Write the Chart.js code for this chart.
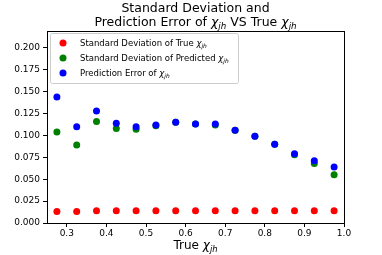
<!DOCTYPE html>
<html>
<head>
<meta charset="utf-8">
<script src="https://cdn.jsdelivr.net/npm/chart.js@4.4.1/dist/chart.umd.min.js"></script>
<style>
  html, body { margin: 0; padding: 0; background: #fff; }
  canvas { display: block; }
</style>
</head>
<body>
<canvas id="chart" width="382" height="255"></canvas>
<script>
// x positions (true chi_jh bin centres)
const trueChi = [0.275, 0.325, 0.375, 0.425, 0.475, 0.525, 0.575, 0.625, 0.675, 0.725, 0.775, 0.825, 0.875, 0.925, 0.975];
const stdTrue = [0.013, 0.013, 0.014, 0.014, 0.014, 0.014, 0.014, 0.014, 0.014, 0.014, 0.014, 0.014, 0.014, 0.014, 0.014];
const stdPred = [0.104, 0.089, 0.116, 0.108, 0.107, 0.111, 0.115, 0.113, 0.112, 0.106, 0.099, 0.090, 0.078, 0.068, 0.055];
const predErr = [0.144, 0.110, 0.128, 0.114, 0.110, 0.112, 0.115, 0.113, 0.113, 0.106, 0.099, 0.090, 0.079, 0.071, 0.064];

const xTicks = [0.3, 0.4, 0.5, 0.6, 0.7, 0.8, 0.9, 1.0];
const yTicks = [0, 0.025, 0.05, 0.075, 0.1, 0.125, 0.15, 0.175, 0.2];

const seriesNames = ['Standard Deviation of True ', 'Standard Deviation of Predicted ', 'Prediction Error of '];
const seriesColors = ['#ff0000', '#008000', '#0000ff'];

const FONT = "'DejaVu Sans', sans-serif";

// draw text made of parts, some italic / subscript
function drawRich(ctx, parts, x, y, size, align) {
    let widths = parts.map(p => {
        const s = p.sub ? size * 0.7 : size;
        ctx.font = (p.it ? 'italic ' : '') + s + 'px ' + FONT;
        return ctx.measureText(p.t).width;
    });
    let total = widths.reduce((a, b) => a + b, 0);
    let cx = align === 'center' ? x - total / 2 : x;
    ctx.textAlign = 'left';
    ctx.textBaseline = 'alphabetic';
    parts.forEach((p, i) => {
        const s = p.sub ? size * 0.7 : size;
        ctx.font = (p.it ? 'italic ' : '') + s + 'px ' + FONT;
        ctx.fillText(p.t, cx, p.sub ? y + size * 0.22 : y);
        cx += widths[i];
    });
}

const chi = [{ t: 'χ', it: true }, { t: 'jh', it: true, sub: true }];

const decorPlugin = {
    id: 'decor',
    afterDraw(chart) {
        const ctx = chart.ctx;
        const a = chart.chartArea;
        ctx.save();
        // frame
        ctx.strokeStyle = '#000';
        ctx.lineWidth = 1;
        ctx.strokeRect(Math.round(a.left) + 0.5, Math.round(a.top) + 0.5, Math.round(a.right - a.left), Math.round(a.bottom - a.top));

        ctx.fillStyle = '#000';
        // title
        drawRich(ctx, [{ t: 'Standard Deviation and' }], (a.left + a.right) / 2, 12, 12.5, 'center');
        drawRich(ctx, [{ t: 'Prediction Error of ' }, ...chi, { t: ' VS True ' }, ...chi], (a.left + a.right) / 2, 26, 12.5, 'center');
        // x axis title
        drawRich(ctx, [{ t: 'True ' }, ...chi], (a.left + a.right) / 2, 249, 12, 'center');

        // legend
        const lx = a.left + 3, ly = a.top + 2, lw = 188, lh = 50;
        ctx.fillStyle = 'rgba(255,255,255,0.8)';
        ctx.strokeStyle = '#cccccc';
        ctx.beginPath();
        ctx.roundRect(lx + 0.5, ly + 0.5, lw, lh, 2);
        ctx.fill();
        ctx.stroke();
        seriesNames.forEach((name, i) => {
            const yy = ly + 10 + i * 15;
            ctx.fillStyle = seriesColors[i];
            ctx.beginPath();
            ctx.arc(lx + 13, yy, 3.5, 0, Math.PI * 2);
            ctx.fill();
            ctx.fillStyle = '#000';
            drawRich(ctx, [{ t: name }, ...chi], lx + 30, yy + 3, 8.5, 'left');
        });
        ctx.restore();
    }
};

const pts = arr => arr.map((v, i) => ({ x: trueChi[i], y: v }));

new Chart(document.getElementById('chart'), {
    type: 'scatter',
    data: {
        datasets: [
            { label: seriesNames[0], data: pts(stdTrue), backgroundColor: seriesColors[0], borderWidth: 0, pointRadius: 3.5, order: 2 },
            { label: seriesNames[1], data: pts(stdPred), backgroundColor: seriesColors[1], borderWidth: 0, pointRadius: 3.5, order: 1 },
            { label: seriesNames[2], data: pts(predErr), backgroundColor: seriesColors[2], borderWidth: 0, pointRadius: 3.5, order: 0 }
        ]
    },
    options: {
        responsive: false,
        animation: false,
        layout: { padding: { left: 0, right: 38, top: 31, bottom: 0 } },
        plugins: {
            legend: { display: false },
            title: { display: false },
            tooltip: { enabled: false }
        },
        scales: {
            x: {
                type: 'linear',
                min: 0.25,
                max: 1.0,
                afterBuildTicks: s => { s.ticks = xTicks.map(v => ({ value: v })); },
                afterFit: s => { s.height = 32; },
                grid: { display: true, drawOnChartArea: false, drawTicks: true, tickLength: 4, color: '#000' },
                border: { display: true, color: '#000' },
                ticks: {
                    color: '#000',
                    font: { family: FONT, size: 9 },
                    padding: 1,
                    maxRotation: 0,
                    callback: v => v.toFixed(1)
                }
            },
            y: {
                type: 'linear',
                min: 0,
                max: 0.2194,
                afterBuildTicks: s => { s.ticks = yTicks.map(v => ({ value: v })); },
                afterFit: s => { s.width = 47; },
                grid: { display: true, drawOnChartArea: false, drawTicks: true, tickLength: 4, color: '#000' },
                border: { display: true, color: '#000' },
                ticks: {
                    color: '#000',
                    font: { family: FONT, size: 9 },
                    padding: 3,
                    callback: v => v.toFixed(3)
                }
            }
        }
    },
    plugins: [decorPlugin]
});
</script>
</body>
</html>
